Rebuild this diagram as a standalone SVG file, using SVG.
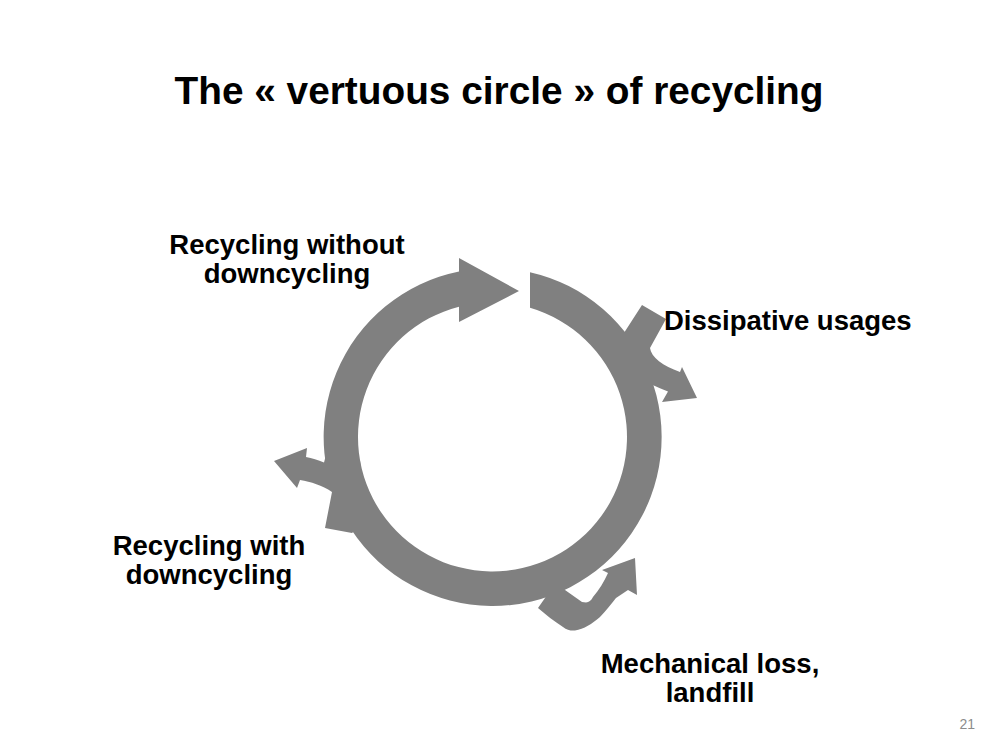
<svg xmlns="http://www.w3.org/2000/svg" width="1000" height="750" viewBox="0 0 1000 750">
  <style>
    .shape { fill: #808080; stroke: none; }
    .title { font-family: "Liberation Sans", Arial, sans-serif; font-weight: bold; font-size: 38.8px; fill: #000; }
    .label { font-family: "Liberation Sans", Arial, sans-serif; font-weight: bold; font-size: 27.5px; fill: #000; }
    .pnum { font-family: "Liberation Sans", Arial, sans-serif; font-size: 14px; fill: #8c8c8c; }
  </style>
  <rect x="0" y="0" width="1000" height="750" fill="#ffffff"/>
  <text class="title" x="499" y="104" text-anchor="middle">The « vertuous circle » of recycling</text>

  <g id="connectors">
    <path id="ring" class="shape" d="M530,272.2 A169,169 0 1,1 459,271.4 L459,258 L519,291 L459,322 L459,306.7 A134.5,134.5 0 1,0 530,307.8 Z"/>
    <path id="branch-dissipative" class="shape" d="M622,336 L642,305 L666,319 L650,348 C651,357 663,366 680,372 L682,367 L697,398 L662,402 L668,391.5 C662,389 657,387 650,384 L640,360 Z"/>
    <path id="branch-downcycling" class="shape" d="M326,455 L324,462.5 C318,460 312,458 306,457 L307,448 L274,461 L297,488 L300,480 C311,482 322,485 332,492 L325,528 L352,533 L366,520 L360,460 Z"/>
    <path id="branch-landfill" class="shape" d="M547,594 L545,598 L538,608 C546,615 554,621 563,627 C567,630 571,631 575,630.5 C584,629 592,624 600,617 C606,611 611,604 616,598 L628,590 L637,595 L635,558 L602,570 L608,573 C604,582 599,590 593,597 C591,601 589,602 586,602.5 L582,602 L565,590 L555,585 Z"/>
  </g>

  <g id="node-without">
    <text class="label" x="287" y="254" text-anchor="middle">Recycling without</text>
    <text class="label" x="287" y="283" text-anchor="middle">downcycling</text>
  </g>
  <g id="node-dissipative">
    <text class="label" x="664" y="330">Dissipative usages</text>
  </g>
  <g id="node-with">
    <text class="label" x="209" y="555" text-anchor="middle">Recycling with</text>
    <text class="label" x="209" y="584" text-anchor="middle">downcycling</text>
  </g>
  <g id="node-landfill">
    <text class="label" x="710" y="673" text-anchor="middle">Mechanical loss,</text>
    <text class="label" x="710" y="702" text-anchor="middle">landfill</text>
  </g>
  <text class="pnum" x="975" y="729" text-anchor="end">21</text>
</svg>
